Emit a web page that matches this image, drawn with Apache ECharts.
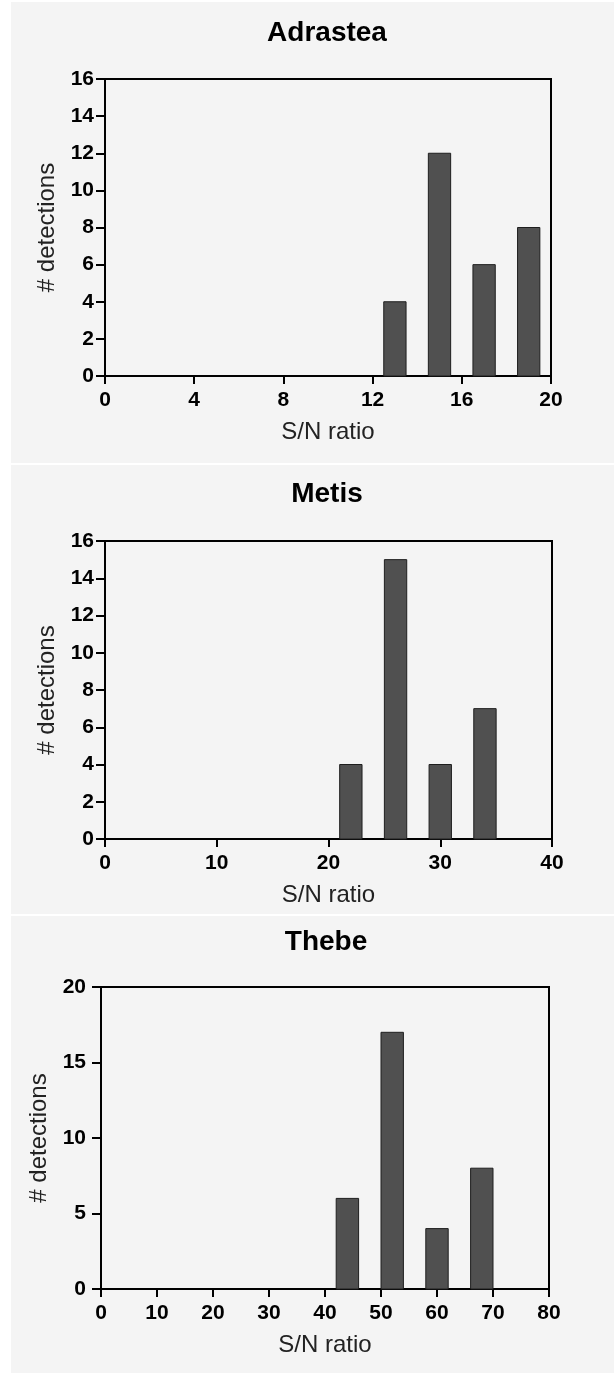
<!DOCTYPE html>
<html>
<head>
<meta charset="utf-8">
<script src="https://cdn.jsdelivr.net/npm/echarts@6/dist/echarts.min.js"></script>
<style>
  html, body { margin: 0; padding: 0; background: #ffffff; }
  .panel { position: absolute; left: 11px; width: 603px; background: #f4f4f4; }
  #chart { position: absolute; left: 0; top: 0; width: 614px; height: 1375px; }
</style>
</head>
<body>
<div class="panel" style="top:2px;height:461px"></div>
<div class="panel" style="top:465px;height:449px"></div>
<div class="panel" style="top:916px;height:457px"></div>
<div id="chart"></div>
<script>
// 各面板数据
const panelTitles = ['Adrastea', 'Metis', 'Thebe'];
const adrasteaBins = [13, 15, 17, 19];
const adrasteaCounts = [4, 12, 6, 8];
const metisBins = [22, 26, 30, 34];
const metisCounts = [4, 15, 4, 7];
const thebeBins = [44, 52, 60, 68];
const thebeCounts = [6, 17, 4, 8];
const xMax = [20, 40, 80];
const xInterval = [4, 10, 10];
const yMax = [16, 16, 20];
const yInterval = [2, 2, 5];
const binSpacing = [2, 4, 8];

const bins = [adrasteaBins, metisBins, thebeBins];
const counts = [adrasteaCounts, metisCounts, thebeCounts];

// 布局
const grids = [
  { left: 105, top: 79, width: 446, height: 297 },
  { left: 105, top: 541, width: 447, height: 298 },
  { left: 101, top: 987, width: 448, height: 302 },
];
const titlePos = [[327, 33], [327, 494], [326, 942]];
const yLabelMargin = [11, 11, 15];
const yNameGap = [46, 46, 48];

const font = 'Liberation Sans, Arial, sans-serif';
const chart = echarts.init(document.getElementById('chart'));

const option = {
  backgroundColor: 'transparent',
  animation: false,
  grid: grids.map(g => ({
    ...g, show: true, borderColor: '#000', borderWidth: 2, backgroundColor: 'transparent'
  })),
  graphic: panelTitles.map((t, i) => ({
    type: 'text', x: titlePos[i][0], y: titlePos[i][1],
    style: {
      text: t, fill: '#000', font: 'bold 28px ' + font,
      textAlign: 'center', textVerticalAlign: 'middle'
    }
  })),
  xAxis: grids.map((g, i) => ({
    type: 'value', gridIndex: i, min: 0, max: xMax[i], interval: xInterval[i],
    name: 'S/N ratio', nameLocation: 'middle', nameGap: 44,
    nameTextStyle: { fontFamily: font, fontSize: 24, color: '#222' },
    axisLine: { show: true, lineStyle: { color: '#000', width: 2 } },
    axisTick: { show: true, inside: false, length: 8, lineStyle: { color: '#000', width: 2 } },
    axisLabel: { fontFamily: font, fontSize: 21, fontWeight: 'bold', color: '#000', margin: 14 },
    splitLine: { show: false }
  })),
  yAxis: grids.map((g, i) => ({
    type: 'value', gridIndex: i, min: 0, max: yMax[i], interval: yInterval[i],
    name: '# detections', nameLocation: 'middle', nameGap: yNameGap[i], nameRotate: 90,
    nameTextStyle: { fontFamily: font, fontSize: 24, color: '#222' },
    axisLine: { show: true, lineStyle: { color: '#000', width: 2 } },
    axisTick: { show: true, inside: false, length: 9, lineStyle: { color: '#000', width: 2 } },
    axisLabel: { fontFamily: font, fontSize: 21, fontWeight: 'bold', color: '#000', margin: yLabelMargin[i] },
    splitLine: { show: false }
  })),
  series: bins.map((b, i) => ({
    type: 'custom',
    xAxisIndex: i, yAxisIndex: i,
    data: b.map((x, k) => [x, counts[i][k]]),
    renderItem: (params, api) => {
      const half = binSpacing[i] / 4;
      const x = api.value(0), y = api.value(1);
      const p0 = api.coord([x - half, y]);
      const p1 = api.coord([x + half, 0]);
      return {
        type: 'rect',
        shape: { x: p0[0], y: p0[1], width: p1[0] - p0[0], height: p1[1] - p0[1] },
        style: { fill: '#505050', stroke: '#1e1e1e', lineWidth: 1 }
      };
    }
  }))
};

chart.setOption(option);
</script>
</body>
</html>
